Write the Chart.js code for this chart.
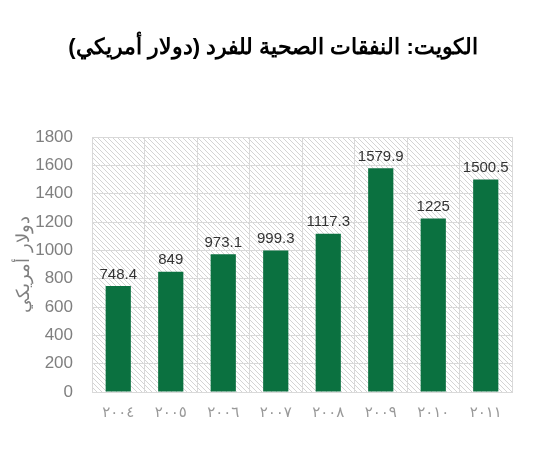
<!DOCTYPE html>
<html>
<head>
<meta charset="utf-8">
<script src="https://cdn.jsdelivr.net/npm/chart.js@4"></script>
<style>
  html, body { margin: 0; padding: 0; background: #fff; }
  #wrap { width: 547px; height: 450px; }
</style>
</head>
<body>
<div id="wrap"><canvas id="c" width="547" height="450"></canvas></div>
<script>
const chartTitle = 'الكويت: النفقات الصحية للفرد (دولار أمريكي)';
const years = ['٢٠٠٤', '٢٠٠٥', '٢٠٠٦', '٢٠٠٧', '٢٠٠٨', '٢٠٠٩', '٢٠١٠', '٢٠١١'];
const spending = [748.4, 849, 973.1, 999.3, 1117.3, 1579.9, 1225, 1500.5];
const valueLabels = ['748.4', '849', '973.1', '999.3', '1117.3', '1579.9', '1225', '1500.5'];

// فرشاة التظليل القطري لخلفية منطقة الرسم
function makeHatch(ctx) {
    const p = document.createElement('canvas');
    p.width = 5; p.height = 5;
    const g = p.getContext('2d');
    g.fillStyle = '#ffffff';
    g.fillRect(0, 0, 5, 5);
    g.strokeStyle = '#d4d4d4';
    g.lineWidth = 1;
    g.beginPath();
    g.moveTo(-1, -1); g.lineTo(6, 6);
    g.moveTo(-1, 4); g.lineTo(1, 6);
    g.moveTo(4, -1); g.lineTo(6, 1);
    g.stroke();
    return ctx.createPattern(p, 'repeat');
}

const hatchBg = {
    id: 'hatchBg',
    beforeDraw(chart) {
        const { ctx, chartArea: a } = chart;
        ctx.save();
        ctx.fillStyle = makeHatch(ctx);
        ctx.fillRect(a.left, a.top, a.right - a.left, a.bottom - a.top);
        // العنوان في وسط الصفحة
        ctx.font = 'bold 22px "Liberation Sans", Arial, sans-serif';
        ctx.fillStyle = '#000000';
        ctx.textAlign = 'center';
        ctx.textBaseline = 'middle';
        ctx.fillText(chartTitle, 273, 48);
        ctx.restore();
    }
};

const barValues = {
    id: 'barValues',
    afterDatasetsDraw(chart) {
        const ctx = chart.ctx;
        const meta = chart.getDatasetMeta(0);
        ctx.save();
        ctx.font = '15px "Liberation Sans", Arial, sans-serif';
        ctx.fillStyle = '#333333';
        ctx.textAlign = 'center';
        ctx.textBaseline = 'bottom';
        meta.data.forEach((bar, i) => {
            ctx.fillText(valueLabels[i], bar.x, bar.y - 4);
        });
        ctx.restore();
    }
};

new Chart(document.getElementById('c').getContext('2d'), {
    type: 'bar',
    data: {
        labels: years,
        datasets: [{
            data: spending,
            backgroundColor: '#0b7140',
            barPercentage: 0.48,
            categoryPercentage: 1
        }]
    },
    options: {
        responsive: false,
        animation: false,
        layout: { padding: { left: 0, right: 35, top: 137, bottom: 28 } },
        plugins: {
            legend: { display: false },
            tooltip: { enabled: false },
            title: { display: false }
        },
        scales: {
            x: {
                grid: { color: '#d9d9d9', drawTicks: false },
                border: { color: '#d9d9d9' },
                ticks: {
                    color: '#999999',
                    padding: 12,
                    maxRotation: 0,
                    font: { family: '"DejaVu Sans", sans-serif', size: 15 }
                },
                afterFit(axis) { axis.height = 30; }
            },
            y: {
                min: 0,
                max: 1800,
                grid: { color: '#d9d9d9', drawTicks: false },
                border: { color: '#d9d9d9' },
                ticks: {
                    stepSize: 200,
                    color: '#7f7f7f',
                    padding: 19,
                    font: { family: '"Liberation Sans", Arial, sans-serif', size: 17 },
                    callback: v => String(v)
                },
                title: {
                    display: true,
                    text: 'دولار أمريكي',
                    color: '#7f7f7f',
                    padding: { top: 13, bottom: 0 },
                    font: { family: '"Liberation Sans", Arial, sans-serif', size: 18 }
                },
                afterFit(axis) { axis.width = 92; }
            }
        }
    },
    plugins: [hatchBg, barValues]
});
</script>
</body>
</html>
